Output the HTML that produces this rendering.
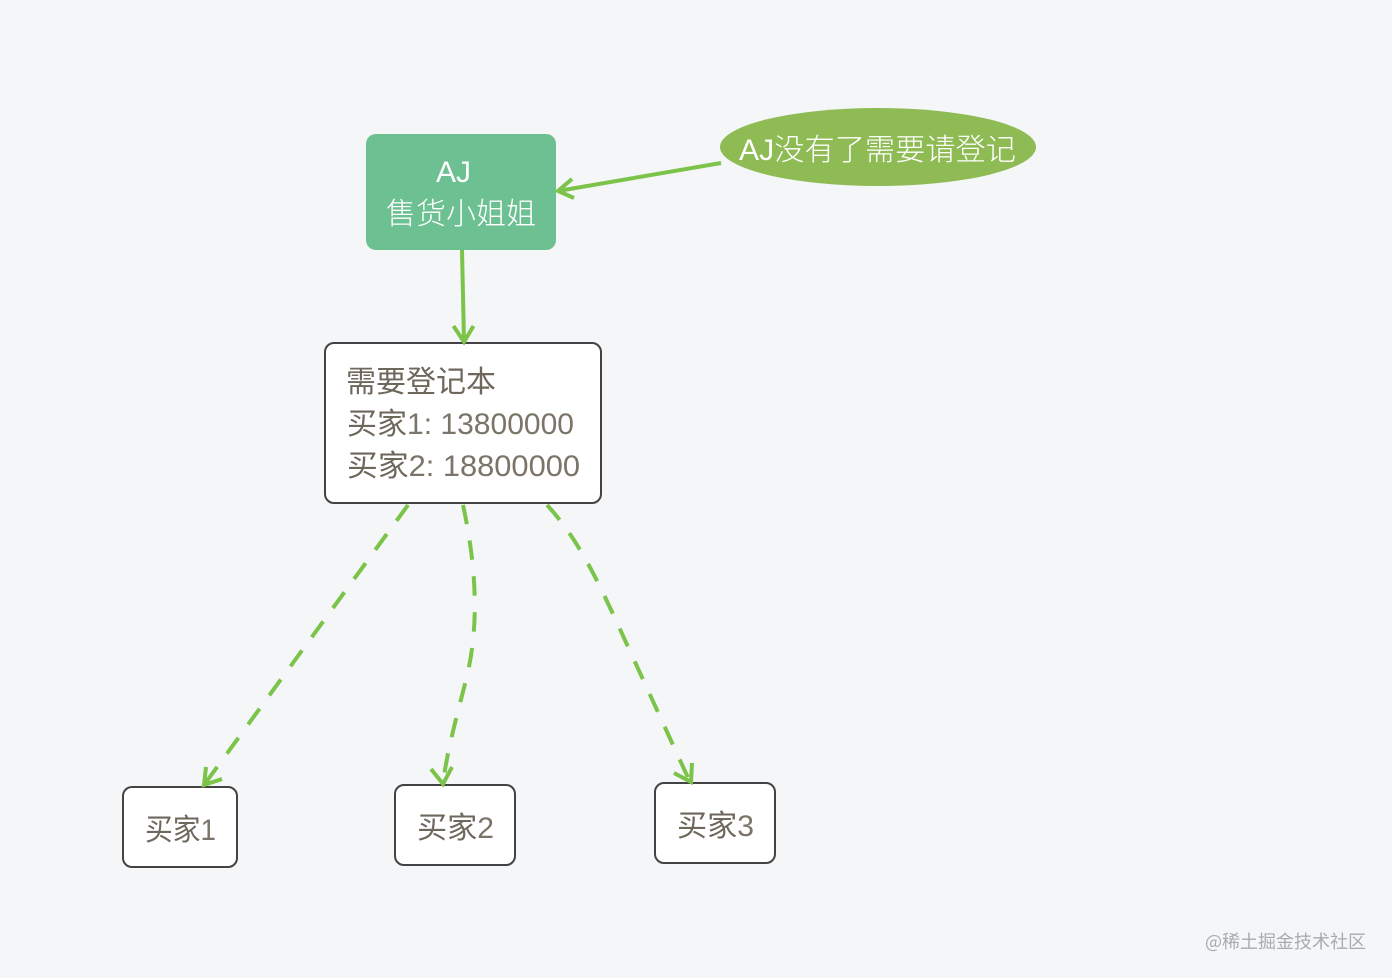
<!DOCTYPE html>
<html>
<head>
<meta charset="utf-8">
<style>
html,body{margin:0;padding:0;width:1392px;height:978px;overflow:hidden;background:#f4f6f8;}
svg{display:block;position:absolute;left:0;top:0;}
text{font-family:"Noto Sans CJK SC","Liberation Sans",sans-serif;font-weight:400;}
.l{font-family:"Liberation Sans","Noto Sans CJK SC",sans-serif;fill:#7a7469;}
.w{font-family:"Liberation Sans","Noto Sans CJK SC",sans-serif;font-weight:300;}
</style>
</head>
<body>
<svg width="1392" height="978" viewBox="0 0 1392 978" xmlns="http://www.w3.org/2000/svg">
<rect width="1392" height="978" fill="#f4f6f8"/>
<rect x="366" y="134" width="190" height="116" rx="10" fill="#6cc092"/>
<ellipse cx="878" cy="147" rx="158" ry="39" fill="#8fbb55"/>
<rect x="325" y="343" width="276" height="160" rx="9" fill="#fff" stroke="#434343" stroke-width="2"/>
<rect x="123" y="787" width="114" height="80" rx="9" fill="#fff" stroke="#434343" stroke-width="2"/>
<rect x="395" y="785" width="120" height="80" rx="9" fill="#fff" stroke="#434343" stroke-width="2"/>
<rect x="655" y="783" width="120" height="80" rx="9" fill="#fff" stroke="#434343" stroke-width="2"/>
<g fill="none" stroke="#7cc34a" stroke-width="4">
<path d="M721 163L558 191"/>
<path d="M572 179L558 191L574 198"/>
<path d="M462 250L464 341"/>
<path d="M453.500 326L464 342L473.500 326"/>
<g stroke-dasharray="19.500 16.500">
<path d="M408 505L204 785"/>
<path d="M463 505C476 565 480 625 466 680C458 712 447 750 443 784"/>
<path d="M547 505C575 535 595 575 613 614L690 782"/>
</g>
<path d="M206 767L204 785L222 779"/>
<path d="M431 769L443 784L452 767"/>
<path d="M674 773L691 782L692 763"/>
</g>
<g font-size="30" fill="#fff">
<text x="436" y="182" class="w" textLength="35" lengthAdjust="spacingAndGlyphs">AJ</text>
<text x="386" y="224" class="w" textLength="150" lengthAdjust="spacingAndGlyphs">售货小姐姐</text>
<text x="739" y="160" class="w" textLength="277" lengthAdjust="spacingAndGlyphs">AJ没有了需要请登记</text>
</g>
<g font-size="30" fill="#6d675c">
<text x="346" y="392" textLength="150" lengthAdjust="spacingAndGlyphs">需要登记本</text>
<text x="347" y="434" textLength="227" lengthAdjust="spacingAndGlyphs">买家<tspan class="l">1: 13800000</tspan></text>
<text x="347" y="476" textLength="233" lengthAdjust="spacingAndGlyphs">买家<tspan class="l">2: 18800000</tspan></text>
<text x="145" y="840" textLength="71" lengthAdjust="spacingAndGlyphs">买家<tspan class="l">1</tspan></text>
<text x="417" y="838" textLength="77" lengthAdjust="spacingAndGlyphs">买家<tspan class="l">2</tspan></text>
<text x="677" y="836" textLength="77" lengthAdjust="spacingAndGlyphs">买家<tspan class="l">3</tspan></text>
</g>
<text x="1205" y="948" font-size="18" fill="#a9abad" textLength="161" lengthAdjust="spacingAndGlyphs">@稀土掘金技术社区</text>
</svg>
</body>
</html>
